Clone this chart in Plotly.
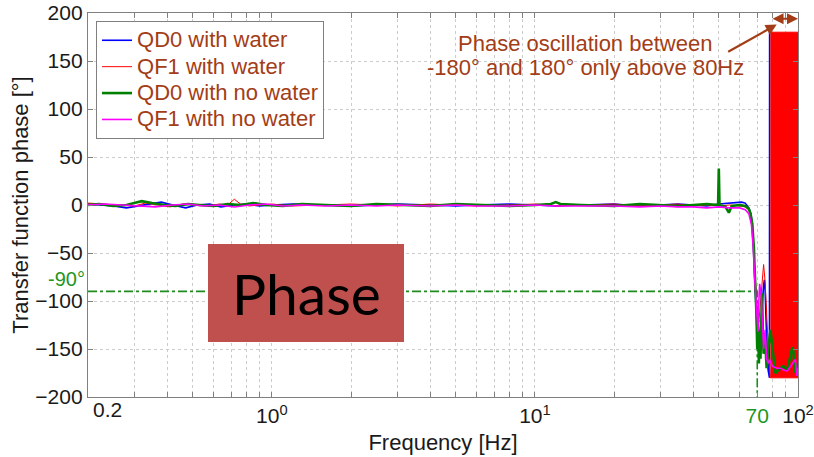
import math
import plotly.graph_objects as go

# ---- measured transfer function phase (deg) vs frequency (Hz) ----
qd0_water_f = [0.2, 0.22, 0.25, 0.28, 0.31, 0.34, 0.38, 0.42, 0.47, 0.52,
               0.58, 0.64, 0.72, 0.8, 0.9, 1.0, 1.2, 1.5, 2, 2.5,
               3, 4, 5, 6, 8, 10, 12, 15, 20, 25,
               30, 35, 40, 45, 50, 55, 58, 61, 63, 65,
               66, 67, 67.5, 68, 68.5, 69, 69.5, 70, 70.5, 71,
               72, 73, 74, 74.5, 75, 75.5, 76, 76.5, 77, 77.5,
               77.9, 78.0]
qd0_water_p = [1, 0, -1, -3, -1, 1, 3, 0, -3, 0,
               1, -2, 0, 1, -1, 0, 1, 0, -1, 0,
               1, 0, -1, 0, 1, 0, -1, 0, 1, -1,
               0, 1, 0, -1, 1, 2, 3, 3, 2, -3,
               -8, -18, -35, -60, -85, -105, -125, -138, -145, -150,
               -130, -100, -84, -78, -88, -115, -145, -160, -172, -178,
               -180, 180]

qf1_water_f = [0.2, 0.23, 0.26, 0.3, 0.33, 0.37, 0.41, 0.46, 0.51, 0.57,
               0.63, 0.68, 0.72, 0.76, 0.82, 0.9, 1.0, 1.2, 1.5, 2,
               2.5, 3, 4, 5, 6, 8, 10, 12, 15, 20,
               25, 30, 35, 40, 45, 50, 55, 60, 63, 65,
               66, 67, 68, 69, 70, 71, 72, 73, 74, 75,
               76, 77, 78, 78.5]
qf1_water_p = [2, 1, 0, -1, 2, 0, -2, 1, 0, -1,
               1, 0, 6, 1, -1, 0, 1, -1, 0, 1,
               0, -1, 1, 0, -1, 0, 1, -1, 0, 1,
               -1, 0, 1, -1, 0, -1, 0, -1, -2, -5,
               -10, -22, -50, -85, -110, -122, -100, -75, -62, -80,
               -118, -145, -172, -180]

# QF1 with water: phase wraps between -180 and +180 above ~80 Hz
wrap_f = [78.5, 100]
wrap_lo = [-180, -180]
wrap_hi = [180, 180]

qd0_dry_f = [0.2, 0.22, 0.25, 0.28, 0.3, 0.32, 0.35, 0.39, 0.43, 0.48,
             0.53, 0.6, 0.68, 0.76, 0.85, 0.95, 1.1, 1.3, 1.6, 2,
             2.5, 3, 4, 5, 6, 8, 10, 11.5, 12, 12.5,
             15, 20, 25, 30, 35, 40, 45, 49.7, 50, 50.3,
             53, 54.6, 56, 60, 63, 65, 66, 67, 68, 68.5,
             69, 69.5, 70, 70.5, 71, 71.5, 72, 72.5, 73, 73.5,
             74, 75, 76, 77, 78.6, 80, 82, 85.7, 88, 91,
             94, 95.2, 96, 97, 98, 100]
qd0_dry_p = [0, 1, -1, 0, 2, 4, 2, 0, -1, 1,
             0, -1, 1, 0, 2, 0, -1, 1, 0, -1,
             1, 0, -1, 1, 0, -1, 0, 1, 3, 1,
             0, -1, 1, 0, -1, 0, 1, 0, 38, 0,
             -2, -8, -1, 0, -1, -4, -9, -20, -45, -70,
             -90, -112, -150, -120, -165, -130, -160, -110, -92, -130,
             -155, -140, -170, -150, -130, -150, -175, -170, -168, -172,
             -155, -148, -152, -170, -175, -165]

qf1_dry_f = [0.2, 0.23, 0.27, 0.31, 0.36, 0.42, 0.48, 0.55, 0.63, 0.72,
             0.82, 0.95, 1.1, 1.3, 1.6, 2, 2.5, 3, 4, 5,
             6, 8, 10, 12, 15, 20, 25, 30, 35, 40,
             45, 50, 55, 60, 63, 65, 66.5, 67.5, 68.5, 69.5,
             70.5, 71, 71.5, 72.5, 73, 74, 75, 76, 77, 78,
             80, 83, 86, 88, 91, 94, 97.7, 99, 100]
qf1_dry_p = [0, 1, 0, -1, -2, 0, 1, -1, 0, -2,
             0, 1, -1, 0, -1, 0, -1, 0, -1, 0,
             -1, -1, 0, -1, -1, -1, -2, -1, -2, -2,
             -3, -2, -3, -3, -5, -9, -20, -42, -78, -110,
             -132, -100, -82, -96, -120, -150, -130, -160, -165, -161,
             -168, -170, -170, -172, -173, -168, -161, -178, -170]

# -90 deg crossing marker (reached at 70 Hz)
ref_f = [0.2, 70, 70]
ref_p = [-90, -90, -200]

# axis ticks
x_grid = [0.2, 0.3, 0.4, 0.5, 0.6, 0.7, 0.8, 0.9,
          1, 2, 3, 4, 5, 6, 7, 8, 9,
          10, 20, 30, 40, 50, 60, 70, 80, 90, 100]
GREEN_TXT = "#1F961F"
x_labels = {1: "10<sup>0</sup>", 10: "10<sup>1</sup>",
            70: f"<span style='color:{GREEN_TXT}'>70</span>",
            100: "10<sup>2</sup>"}
y_ticks = [-200, -150, -100, -50, 0, 50, 100, 150, 200]

FONT = "Liberation Sans, Arial, sans-serif"
BROWN = "#A33D17"


def legend_label(text):
    # legend rows are spaced for an 18px font, the label itself is larger
    return f"<span style='font-size:22px'>{text}</span>"


fig = go.Figure()

fig.add_trace(go.Scatter(x=ref_f, y=ref_p, mode="lines", showlegend=False,
                         line=dict(color="#1E8C1E", width=1.6, dash="dashdot"),
                         hoverinfo="skip"))
fig.add_trace(go.Scatter(x=qd0_water_f, y=qd0_water_p, mode="lines",
                         name=legend_label("QD0 with water"),
                         line=dict(color="#0000FF", width=1.6)))
fig.add_trace(go.Scatter(x=qf1_water_f, y=qf1_water_p, mode="lines",
                         name=legend_label("QF1 with water"),
                         legendgroup="qf1w",
                         line=dict(color="#FF0000", width=1)))
fig.add_trace(go.Scatter(x=wrap_f, y=wrap_lo, mode="lines", showlegend=False,
                         legendgroup="qf1w",
                         line=dict(color="#FF0000", width=1)))
fig.add_trace(go.Scatter(x=wrap_f, y=wrap_hi, mode="lines", showlegend=False,
                         legendgroup="qf1w", fill="tonexty",
                         fillcolor="#FF0000",
                         line=dict(color="#FF0000", width=1)))
fig.add_trace(go.Scatter(x=qd0_dry_f, y=qd0_dry_p, mode="lines",
                         name=legend_label("QD0 with no water"),
                         line=dict(color="#008000", width=2.6)))
fig.add_trace(go.Scatter(x=qf1_dry_f, y=qf1_dry_p, mode="lines",
                         name=legend_label("QF1 with no water"),
                         line=dict(color="#FF00FF", width=1.6)))

axis_common = dict(
    showline=True, linecolor="#808080", linewidth=1.3, mirror="ticks",
    ticks="inside", ticklen=5, tickcolor="#808080",
    showgrid=True, gridcolor="#CCCCCC", griddash="dot", gridwidth=1,
    zeroline=False, automargin=False,
    tickfont=dict(family=FONT, size=21, color="#1A1A1A"),
)

fig.update_xaxes(
    type="log", range=[math.log10(0.2), 2],
    tickmode="array", tickvals=x_grid,
    ticktext=[x_labels.get(v, "") for v in x_grid],
    title=dict(text="Frequency [Hz]", standoff=8,
               font=dict(family=FONT, size=22, color="#1A1A1A")),
    **axis_common,
)
fig.update_yaxes(
    range=[-200, 200], tickmode="array", tickvals=y_ticks,
    title=dict(text="Transfer function phase [°]", standoff=0,
               font=dict(family=FONT, size=22, color="#1A1A1A")),
    **axis_common,
)

annotations = [
    dict(text="0.2", xref="paper", yref="paper", x=0, y=0,
         xanchor="left", yanchor="top", xshift=3, yshift=1, showarrow=False,
         font=dict(family=FONT, size=21, color="#1A1A1A")),
    dict(text="-90°", xref="paper", yref="y", x=0, y=-90,
         xanchor="right", yanchor="middle", xshift=-2, yshift=12,
         borderpad=0, showarrow=False,
         font=dict(family=FONT, size=20, color=GREEN_TXT)),
    dict(text="Phase oscillation between", xref="paper", yref="paper",
         x=0.70, y=(397 - 43) / 384, xanchor="center", yanchor="middle",
         showarrow=False, font=dict(family=FONT, size=22, color=BROWN)),
    dict(text="-180° and 180° only above 80Hz", xref="paper", yref="paper",
         x=0.70, y=(397 - 67) / 384, xanchor="center", yanchor="middle",
         showarrow=False, font=dict(family=FONT, size=22, color=BROWN)),
    # arrow pointing at the wrapping region
    dict(text="", xref="x", yref="y", x=math.log10(83), y=188,
         ax=-50, ay=28, axref="pixel", ayref="pixel", showarrow=True,
         arrowhead=2, arrowsize=1, arrowwidth=2.2, arrowcolor=BROWN),
    # 80 Hz to 100 Hz span
    dict(text="", xref="x", yref="y", x=2, y=194,
         ax=math.log10(79), ay=194, axref="x", ayref="y", showarrow=True,
         arrowhead=2, startarrowhead=2, arrowside="end+start",
         arrowsize=1, arrowwidth=2.2, arrowcolor=BROWN),
    # "Phase" tag text
    dict(text="Phase", xref="paper", yref="paper",
         x=(306 - 88) / 710, y=(397 - 293) / 384,
         xanchor="center", yanchor="middle", showarrow=False,
         font=dict(family="Lato, sans-serif", size=57, color="#000000")),
]

shapes = [
    dict(type="rect", xref="paper", yref="paper",
         x0=(208 - 88) / 710, x1=(404 - 88) / 710,
         y0=(397 - 342) / 384, y1=(397 - 244) / 384,
         fillcolor="#C0504D", line=dict(width=0), layer="above"),
]

fig.update_layout(
    width=814, height=457,
    margin=dict(l=88, r=16, t=13, b=60),
    paper_bgcolor="white", plot_bgcolor="white",
    font=dict(family=FONT, color="#1A1A1A"),
    legend=dict(x=0.0113, y=0.979, xanchor="left", yanchor="top",
                bgcolor="white", bordercolor="#808080", borderwidth=1,
                font=dict(family=FONT, size=18, color=BROWN),
                tracegroupgap=0, itemwidth=30),
    annotations=annotations,
    shapes=shapes,
    showlegend=True,
)

fig.write_html("out.html")
